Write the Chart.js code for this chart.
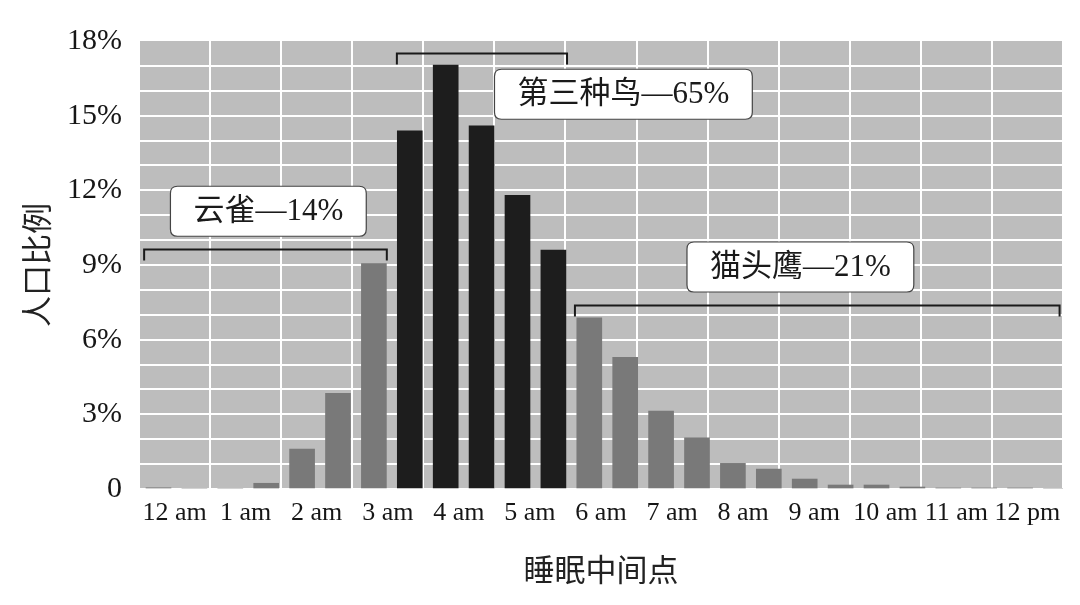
<!DOCTYPE html>
<html>
<head>
<meta charset="utf-8">
<script src="https://cdn.jsdelivr.net/npm/chart.js@4/dist/chart.umd.min.js"></script>
<style>
html,body{margin:0;padding:0;background:#fff}
#wrap{width:1080px;height:605px}
</style>
</head>
<body>
<div id="wrap"><canvas id="c"></canvas></div>
<script>
// hour labels on the axis, one bar per half hour (12:00 am .. 12:30 pm)
const hourLabels = ['12 am','1 am','2 am','3 am','4 am','5 am','6 am','7 am','8 am','9 am','10 am','11 am','12 pm'];
const halfHourShare = [0.05,0,0,0.23,1.6,3.84,9.06,14.39,17.03,14.59,11.8,9.6,6.88,5.29,3.13,2.06,1.03,0.8,0.4,0.16,0.16,0.08,0.04,0.04,0.04,0];
const yTicks = [0,3,6,9,12,15,18];

// groups: name, bracket span (in bar index units), bracket level (%), label position (bar index, %)
const groupNames = ['云雀—14%','第三种鸟—65%','猫头鹰—21%'];
const bracketFrom = [-0.4, 6.64, 11.6];
const bracketTo = [6.36, 11.38, 25.1];
const bracketLevel = [9.64, 17.5, 7.39];
const labelAtBar = [3.06, 12.95, 17.88];
const labelAtShare = [11.16, 15.86, 8.92];
const groupColors = ['#797979','#1d1d1d','#797979'];

const SERIF = '"Liberation Serif", "Noto Sans CJK SC", serif';

const barColors = halfHourShare.map((v,i)=>{
  let c = '#797979';
  groupNames.forEach((g,k)=>{ if(i>=bracketFrom[k] && i<=bracketTo[k]) c = groupColors[k]; });
  return c;
});

const plotBg = {
  id:'plotBg',
  beforeDraw(chart){
    const {ctx, chartArea:a} = chart;
    ctx.save(); ctx.fillStyle='#bdbdbd'; ctx.fillRect(a.left,a.top,a.right-a.left,a.bottom-a.top); ctx.restore();
  }
};

function roundRect(ctx,x,y,w,h,r){
  ctx.beginPath();
  ctx.moveTo(x+r,y); ctx.lineTo(x+w-r,y); ctx.quadraticCurveTo(x+w,y,x+w,y+r);
  ctx.lineTo(x+w,y+h-r); ctx.quadraticCurveTo(x+w,y+h,x+w-r,y+h);
  ctx.lineTo(x+r,y+h); ctx.quadraticCurveTo(x,y+h,x,y+h-r);
  ctx.lineTo(x,y+r); ctx.quadraticCurveTo(x,y,x+r,y); ctx.closePath();
}

const groupMarks = {
  id:'groupMarks',
  afterDatasetsDraw(chart){
    const {ctx} = chart, xs = chart.scales.xb, ys = chart.scales.y;
    ctx.save();
    groupNames.forEach((name,k)=>{
      // bracket
      const x1 = xs.getPixelForValue(bracketFrom[k]), x2 = xs.getPixelForValue(bracketTo[k]);
      const yb = Math.round(ys.getPixelForValue(bracketLevel[k]))+0.5;
      ctx.strokeStyle='#1a1a1a'; ctx.lineWidth=2;
      ctx.beginPath(); ctx.moveTo(x1,yb+11); ctx.lineTo(x1,yb); ctx.lineTo(x2,yb); ctx.lineTo(x2,yb+11); ctx.stroke();
      // label box
      ctx.font = '31px '+SERIF;
      const tw = ctx.measureText(name).width, w = tw+46, h = 50;
      const cx = xs.getPixelForValue(labelAtBar[k]), cy = ys.getPixelForValue(labelAtShare[k]);
      roundRect(ctx,cx-w/2,cy-h/2,w,h,7);
      ctx.fillStyle='#fff'; ctx.fill();
      ctx.strokeStyle='#444'; ctx.lineWidth=1.2; ctx.stroke();
      ctx.fillStyle='#1a1a1a'; ctx.textAlign='center'; ctx.textBaseline='middle';
      ctx.fillText(name,cx,cy+1);
    });
    ctx.restore();
  }
};

new Chart(document.getElementById('c'),{
  type:'bar',
  data:{
    datasets:[{
      data: halfHourShare.map((v,i)=>({x:i,y:v})),
      xAxisID:'xb',
      backgroundColor: barColors,
      borderWidth:0,
      barThickness:25
    }]
  },
  options:{
    responsive:true, maintainAspectRatio:false, animation:false,
    layout:{padding:{top:41,right:17,left:0,bottom:0}},
    plugins:{legend:{display:false},tooltip:{enabled:false}},
    scales:{
      xb:{type:'linear',min:-0.543,max:25.195,offset:false,bounds:'data',grace:0,display:false,grid:{offset:false}},
      x:{
        type:'category', labels:hourLabels, offset:true, position:'bottom',
        grid:{offset:true,color:'#ffffff',lineWidth:2,drawTicks:false},
        border:{display:false},
        ticks:{font:{family:SERIF,size:26},color:'#161616',padding:9,maxRotation:0,autoSkip:false},
        title:{display:true,text:'睡眠中间点',font:{family:SERIF,size:31},color:'#222',padding:{top:23,bottom:14}},
        afterFit:s=>{s.height=116;}
      },
      y:{
        min:0,max:18,
        grid:{color:c=>c.tick && c.tick.value===18?'rgba(0,0,0,0)':'#ffffff',lineWidth:2,drawTicks:false},
        border:{display:false},
        ticks:{stepSize:1,autoSkip:false,font:{family:SERIF,size:30},color:'#161616',padding:17,
          callback:v=>yTicks.includes(v)?(v===0?'0':v+'%'):''},
        title:{display:true,text:'人口比例',font:{family:SERIF,size:31},color:'#222',padding:{top:21,bottom:0}},
        afterFit:s=>{s.width=139;}
      }
    }
  },
  plugins:[plotBg,groupMarks]
});
</script>
</body>
</html>
